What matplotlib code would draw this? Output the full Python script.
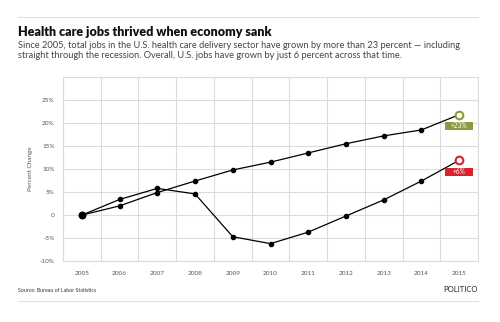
import numpy as np
import matplotlib.pyplot as plt
from matplotlib.lines import Line2D
from matplotlib.patches import Rectangle

years = [2005, 2006, 2007, 2008, 2009, 2010, 2011, 2012, 2013, 2014, 2015]
health_care = [0, 2.0, 4.9, 7.4, 9.8, 11.5, 13.5, 15.5, 17.2, 18.5, 21.8]
all_jobs = [0, 3.4, 5.8, 4.6, -4.7, -6.2, -3.7, -0.2, 3.3, 7.4, 11.9]
y_ticks = [-10, -5, 0, 5, 10, 15, 20, 25]
y_tick_labels = ["-10%", "-5%", "0", "5%", "10%", "15%", "20%", "25%"]
end_labels = ["+23%", "+6%"]

green = "#8a9a3c"
red = "#d9222e"
grid_col = "#dcdcdc"

plt.rcParams['font.family'] = ['Lato', 'DejaVu Sans']

fig = plt.figure(figsize=(5, 3.22), dpi=100)
ax = fig.add_axes([0.126, 0.189, 0.83, 0.572])

for series in (health_care, all_jobs):
    ax.plot(years, series, color="black", lw=0.9, zorder=3)
    ax.plot(years[1:-1], series[1:-1], "o", color="black", ms=3, zorder=4)
    ax.plot(years[0], series[0], "o", color="black", ms=4.5, zorder=4)

# hollow end markers with value tags just below them
tag_w, tag_h, tag_drop = 0.74, 1.8, 2.5
for series, col, txt in zip((health_care, all_jobs), (green, red), end_labels):
    x, y = years[-1], series[-1]
    ax.plot(x, y, "o", ms=5.5, mfc="white", mec=col, mew=1.5, zorder=5)
    ax.add_patch(Rectangle((x - tag_w / 2, y - tag_drop - tag_h / 2),
                           tag_w, tag_h, fc=col, ec="none", zorder=4.5))
    ax.text(x, y - tag_drop + 0.1, txt, ha="center", va="center",
            fontsize=4.8, color="white", zorder=6)

ax.set_xlim(2004.5, 2015.5)
ax.set_ylim(-10, 30)
ax.set_xticks(years)
ax.set_xticklabels([str(y) for y in years])
ax.set_xticks(np.arange(2004.5, 2016, 1), minor=True)
ax.set_yticks(y_ticks)
ax.set_yticklabels(y_tick_labels)
ax.grid(False)
ax.xaxis.grid(True, which="minor", color=grid_col, lw=0.8)
ax.yaxis.grid(True, which="major", color=grid_col, lw=0.8)
ax.set_axisbelow(True)
ax.tick_params(which="both", length=0, labelsize=4.6, labelcolor="#555555")
ax.tick_params(axis="x", pad=7)
ax.tick_params(axis="y", pad=6)
for s in ax.spines.values():
    s.set_color(grid_col)
    s.set_linewidth(0.8)
ax.set_ylabel("Percent Change", fontsize=4.6, color="#555555", labelpad=5)

# header and footer
fig.add_artist(Line2D([0.036, 0.956], [1 - 17 / 322] * 2, color="#e0e0e0",
                      lw=0.8))
fig.add_artist(Line2D([0.036, 0.956], [1 - 301 / 322] * 2, color="#e0e0e0",
                      lw=0.8))
fig.text(0.036, 1 - 32 / 322, "Health care jobs thrived when economy sank",
         fontsize=9, fontweight="heavy", color="#111111", va="center")
fig.text(0.036, 1 - 50.5 / 322,
         "Since 2005, total jobs in the U.S. health care delivery sector have "
         "grown by more than 23 percent \u2014 including\nstraight through the "
         "recession. Overall, U.S. jobs have grown by just 6 percent across "
         "that time.",
         fontsize=6.7, color="#444444", va="center", linespacing=1.2)
fig.text(0.036, 1 - 290 / 322, "Source: Bureau of Labor Statistics",
         fontsize=3.8, color="#333333", va="center")
fig.text(0.956, 1 - 290 / 322, "POLITICO", fontsize=5.5, color="#222222",
         va="center", ha="right")

fig.savefig("out.png", dpi=100)
